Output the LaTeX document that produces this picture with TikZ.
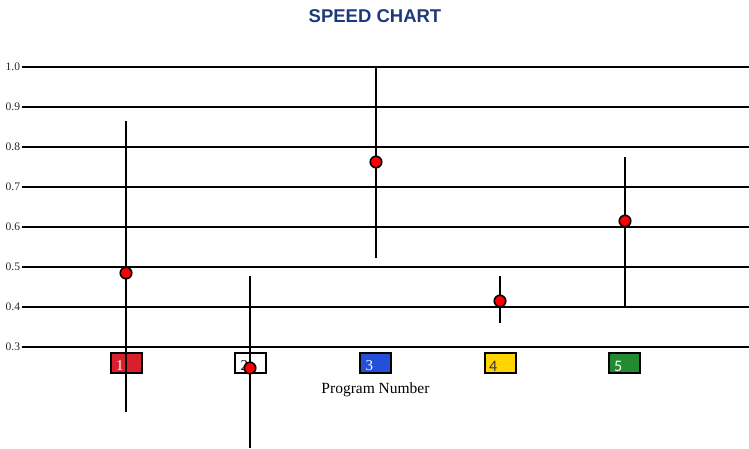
\documentclass[tikz,border=0pt]{standalone}
\usepackage{fontspec}
\setmainfont{Liberation Serif}
\newfontfamily\titlefont{Liberation Sans}
\newfontfamily\calfont{Carlito}
\definecolor{titleblue}{HTML}{1F3A7A}
\definecolor{boxred}{HTML}{D8202C}
\definecolor{boxblue}{HTML}{2350D8}
\definecolor{boxyellow}{HTML}{FFD400}
\definecolor{boxgreen}{HTML}{228B32}
\definecolor{dotred}{HTML}{FF0000}
\tikzset{
  grid line/.style={line width=2.2pt, black},
  axis label/.style={anchor=west, inner sep=0pt, font=\fontsize{11.5}{13}\selectfont, text=black!85},
  bar/.style={line width=2pt, black},
  dot/.style={circle, fill=dotred, draw=black, line width=1.6pt, minimum size=11.5pt, inner sep=0pt},
  progbox/.style={draw=black, line width=2pt, minimum width=31pt, minimum height=20pt, inner sep=0pt},
  boxlabel/.style={anchor=west, inner sep=0pt, font=\fontsize{15}{17}\selectfont},
}
\begin{document}
\begin{tikzpicture}[x=1pt,y=-1pt]
\useasboundingbox (0,0) rectangle (749,448);
\node[font=\titlefont\bfseries\fontsize{18.5}{22}\selectfont, text=titleblue] (title) at (375,16) {SPEED CHART};
% horizontal grid
\foreach \v/\yy [count=\k] in {1.0/67,0.9/107,0.8/147,0.7/187,0.6/227,0.5/267,0.4/307,0.3/347}{
  \node[axis label] (lab\k) at (5.5,\yy) {\v};
  \coordinate (gl\k) at (22,\yy);
  \coordinate (gr\k) at (749,\yy);
  \draw[grid line] (gl\k) -- (gr\k);
}
% boxes
\node[progbox, fill=boxred] (b1) at (126,363) {};
\node[boxlabel, text=white] (t1) at (116,366) {1};
\node[progbox, fill=white] (b2) at (250.5,363) {};
\node[boxlabel, text=black] (t2) at (240.5,366) {2};
\node[progbox, fill=boxblue] (b3) at (375,363) {};
\node[boxlabel, text=white] (t3) at (365.5,366) {3};
\node[progbox, fill=boxyellow] (b4) at (500,363) {};
\node[boxlabel, text=black!80, font=\calfont\fontsize{16}{18}\selectfont] (t4) at (489,366) {4};
\node[progbox, fill=boxgreen] (b5) at (624.5,363) {};
\node[boxlabel, text=white, font=\calfont\fontsize{16}{18}\selectfont] (t5) at (614,366) {5};
\node[font=\fontsize{15.5}{18}\selectfont] (xlabel) at (375.5,390) {Program Number};
% bars
\coordinate (p1t) at (126,121); \coordinate (p1b) at (126,412);
\coordinate (p2t) at (250,276); \coordinate (p2b) at (250,448);
\coordinate (p3t) at (376,67);  \coordinate (p3b) at (376,258);
\coordinate (p4t) at (500,276); \coordinate (p4b) at (500,323);
\coordinate (p5t) at (625,157); \coordinate (p5b) at (625,307);
\foreach \i in {1,...,5}{ \draw[bar] (p\i t) -- (p\i b); }
\node[dot] (d1) at (126,273) {};
\node[dot] (d2) at (250,368) {};
\node[dot] (d3) at (376,162) {};
\node[dot] (d4) at (500,301) {};
\node[dot] (d5) at (625,221) {};
\end{tikzpicture}
\end{document}
